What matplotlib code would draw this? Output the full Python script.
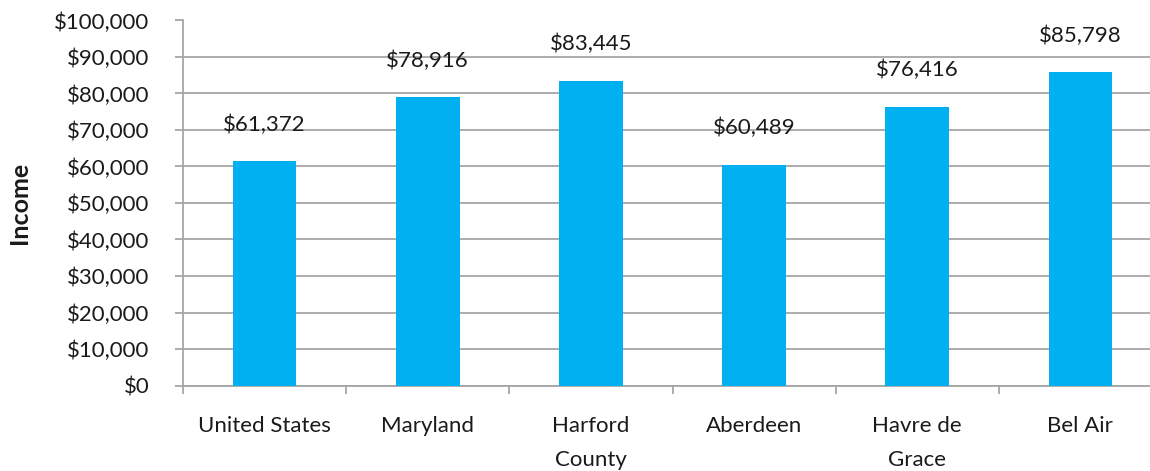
import matplotlib
matplotlib.use("Agg")
import matplotlib.pyplot as plt
import numpy as np

# data
places = ["United States", "Maryland", "Harford\nCounty", "Aberdeen", "Havre de\nGrace", "Bel Air"]
income = [61372, 78916, 83445, 60489, 76416, 85798]
yticks = list(range(0, 100001, 10000))

plt.rcParams['font.family'] = ['Lato', 'DejaVu Sans']
grey = '#a6a6a6'
txt = '#1a1a1a'

fig = plt.figure(figsize=(11.5, 4.71), dpi=100)
ax = fig.add_axes([183/1150, 1-385.5/471, 979/1150, 365/471])

x = np.arange(len(places))
ax.bar(x, income, width=0.39, color='#00b0f0', zorder=3)
for xi, v in zip(x, income):
    ax.annotate(f"${v:,}", (xi, v), xytext=(0, 19), textcoords='offset points',
                ha='center', va='bottom', fontsize=16, color=txt)

ax.set_xlim(-0.5, len(places) - 0.5)
ax.set_ylim(0, 100000)
ax.set_yticks(yticks)
ax.set_yticklabels([f"${t:,}" for t in yticks])
ax.yaxis.grid(True, color=grey, lw=1.3, zorder=0)

ax.set_xticks(x)
ax.set_xticklabels(places, linespacing=1.9)
ax.set_xticks(np.arange(-0.5, len(places)), minor=True)
ax.tick_params(axis='x', which='major', length=0, pad=22, labelsize=16, labelcolor=txt)
ax.tick_params(axis='x', which='minor', length=6, width=1.3, color=grey, direction='out')
ax.tick_params(axis='y', length=6, width=1.3, color=grey, pad=18, labelsize=16, labelcolor=txt)

for s in ['top', 'right']:
    ax.spines[s].set_visible(False)
for s in ['left', 'bottom']:
    ax.spines[s].set_color(grey)
    ax.spines[s].set_linewidth(1.3)

ax.set_ylabel("Income", fontsize=18, fontweight='bold', color=txt)
ax.yaxis.set_label_coords((31 - 183)/979, 0.5)

fig.savefig("out.png", dpi=100)
